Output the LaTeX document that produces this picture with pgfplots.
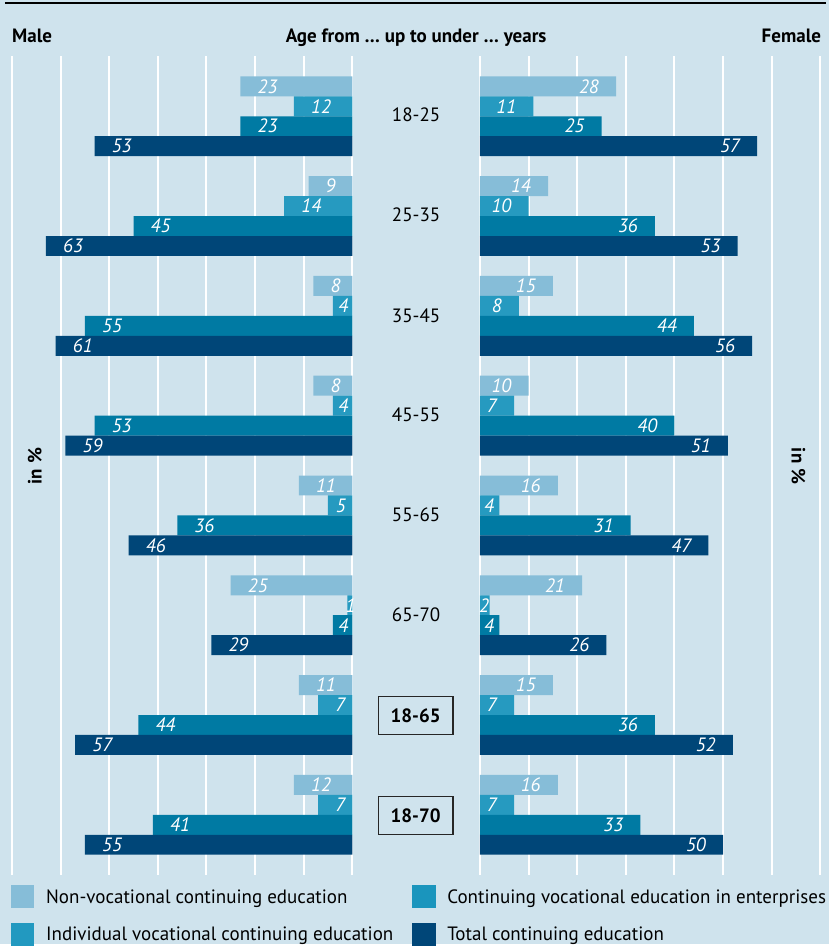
\documentclass[border=0pt]{standalone}
\usepackage{pgfplots}
\pgfplotsset{compat=1.18}
\usepackage{fontspec}
\setmainfont{PT Sans}[FakeStretch=0.985]
\definecolor{bg}{HTML}{CFE3ED}
\definecolor{cA}{HTML}{86BDD8}
\definecolor{cB}{HTML}{269AC0}
\definecolor{cC}{HTML}{007AA3}
\definecolor{cD}{HTML}{004678}
\definecolor{lgB}{HTML}{1A95BD}
\definecolor{lgC}{HTML}{2299C0}
\pgfplotsset{
 panel/.style={
  scale only axis, width=255.75pt, height=615.75pt,
  xbar, bar width=0.2, bar shift=0pt,
  xmin=0, xmax=70, ymin=-0.605, ymax=7.605, y dir=reverse,
  axis line style={draw=none}, major tick length=0pt,
  xtick={0,10,...,70}, xticklabels={}, ytick=\empty,
  xmajorgrids, grid style={white, line width=1.5pt},
  point meta=x,
  visualization depends on={rawx \as \rx},
  nodes near coords={\pgfmathprintnumber[fixed,precision=0,assume math mode=true]{\pgfplotspointmeta}},
 },
 leftlab/.style={every node near coord/.append style={font=\fontsize{14.5pt}{17pt}\selectfont\itshape, text=white, inner sep=0pt, anchor=west, xshift={(ifthenelse(\rx<7,\rx*2.435-4.5,17))*0.75}}},
 rightlab/.style={every node near coord/.append style={font=\fontsize{14.5pt}{17pt}\selectfont\itshape, text=white, inner sep=0pt, anchor=east, xshift={-(ifthenelse(\rx<7,\rx*2.435-4.5,17))*0.75}}},
}
\begin{document}
\fontsize{14.5pt}{17pt}\selectfont
\begin{tikzpicture}
\begin{scope}[x=0.75pt,y=-0.75pt]
\fill[bg] (0,0) rectangle (831,946);
\draw[line width=1.8pt] (5,3) -- (828,3);
\node[anchor=base west, font=\bfseries, inner sep=0pt] at (12,43) {Male};
\node[anchor=base, font=\bfseries, inner sep=0pt] at (417,43) {Age from … up to under … years};
\node[anchor=base east, font=\bfseries, inner sep=0pt] at (823,43) {Female};
\end{scope}

\begin{axis}[panel, leftlab, x dir=reverse, at={(12*0.75pt,-56*0.75pt)}, anchor=north west]
\addplot[fill=cA, draw=none] coordinates {(23,-0.3) (9,0.7) (8,1.7) (8,2.7) (11,3.7) (25,4.7) (11,5.7) (12,6.7)};
\addplot[fill=cB, draw=none] coordinates {(12,-0.1) (14,0.9) (4,1.9) (4,2.9) (5,3.9) (1,4.9) (7,5.9) (7,6.9)};
\addplot[fill=cC, draw=none] coordinates {(23,0.1) (45,1.1) (55,2.1) (53,3.1) (36,4.1) (4,5.1) (44,6.1) (41,7.1)};
\addplot[fill=cD, draw=none] coordinates {(53,0.3) (63,1.3) (61,2.3) (59,3.3) (46,4.3) (29,5.3) (57,6.3) (55,7.3)};
\end{axis}

\begin{axis}[panel, rightlab, at={(481*0.75pt,-56*0.75pt)}, anchor=north west]
\addplot[fill=cA, draw=none] coordinates {(28,-0.3) (14,0.7) (15,1.7) (10,2.7) (16,3.7) (21,4.7) (15,5.7) (16,6.7)};
\addplot[fill=cB, draw=none] coordinates {(11,-0.1) (10,0.9) (8,1.9) (7,2.9) (4,3.9) (2,4.9) (7,5.9) (7,6.9)};
\addplot[fill=cC, draw=none] coordinates {(25,0.1) (36,1.1) (44,2.1) (40,3.1) (31,4.1) (4,5.1) (36,6.1) (33,7.1)};
\addplot[fill=cD, draw=none] coordinates {(57,0.3) (53,1.3) (56,2.3) (51,3.3) (47,4.3) (26,5.3) (52,6.3) (50,7.3)};
\end{axis}

\begin{scope}[x=0.75pt,y=-0.75pt]
\node at (417,115) {18-25};
\node at (417,215) {25-35};
\node at (417,316) {35-45};
\node at (417,416) {45-55};
\node at (417,516) {55-65};
\node at (417,616) {65-70};
\node[draw=black!85, line width=1pt, font=\bfseries, minimum width=75*0.75pt, minimum height=38*0.75pt, inner sep=0pt] at (416.5,717) {18-65};
\node[draw=black!85, line width=1pt, font=\bfseries, minimum width=75*0.75pt, minimum height=38*0.75pt, inner sep=0pt] at (416.5,817) {18-70};
\node[rotate=90, font=\bfseries] at (35,467) {in \%};
\node[rotate=-90, font=\bfseries] at (800,467) {in \%};
% legend
\fill[cA] (11,887) rectangle (34,910);
\node[anchor=base west, inner sep=0pt] at (46,905) {Non-vocational continuing education};
\fill[lgB] (413,887) rectangle (437,910);
\node[anchor=base west, inner sep=0pt] at (448,905) {Continuing vocational education in enterprises};
\fill[lgC] (11,925) rectangle (34,948);
\node[anchor=base west, inner sep=0pt] at (46,942) {Individual vocational continuing education};
\fill[cD] (413,925) rectangle (437,948);
\node[anchor=base west, inner sep=0pt] at (448,942) {Total continuing education};
\end{scope}
\end{tikzpicture}
\end{document}
